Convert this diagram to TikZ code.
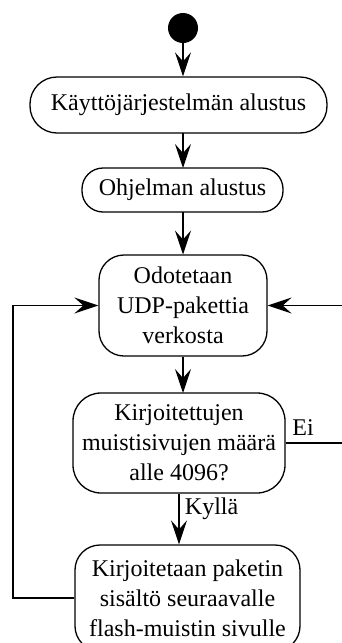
\documentclass[tikz,border=0pt]{standalone}
\usepackage{fontspec}
\setmainfont{Liberation Serif}
\usetikzlibrary{arrows.meta}
\begin{document}
\begin{tikzpicture}[x=1pt, y=-1pt,
  every node/.style={font=\fontsize{24}{30}\selectfont, align=center},
  flow/.style={draw, line width=1.3pt, inner sep=0pt},
  pill/.style={flow, rounded corners=21pt},
  act/.style={flow, rounded corners=25pt},
  link/.style={line width=1.3pt, -{Stealth[length=24pt, width=16pt, inset=9pt]}},
  wire/.style={line width=1.3pt}
]
\useasboundingbox (0,0) rectangle (342,643);
\clip (0,0) rectangle (342,643);

% start marker
\node (start) [circle, fill=black, minimum size=30pt, inner sep=0pt] at (183,28) {};

% activities
\node (init) [pill, rounded corners=27pt, minimum width=297pt, minimum height=56pt] at (178.5,105) {Käyttöjärjestelmän alustus};
\node (prog) [pill, minimum width=201pt, minimum height=44pt] at (182.5,190) {Ohjelman alustus};
\node (wait) [act, minimum width=168pt, minimum height=101pt] at (183,305.5) {Odotetaan\\UDP-pakettia\\verkosta};
\node (check) [act, rounded corners=28pt, minimum width=212pt, minimum height=100pt] at (179,443) {Kirjoitettujen\\muistisivujen määrä\\alle 4096?};
\node (write) [act, minimum width=225pt, minimum height=106pt] at (187.5,598) {Kirjoitetaan paketin\\sisältö seuraavalle\\flash-muistin sivulle};

% return paths
\coordinate (leftturn) at (13,598);
\coordinate (rightturn) at (360,443);

% connectors
\draw[link] (start) -- (start |- init.north);
\draw[link] (183,133) -- (183,168);
\draw[link] (183,212) -- (183,254.5);
\draw[link] (183,356.5) -- (183,393);
\draw[link] (check.south) -- (check.south |- write.north)
  node[pos=0.3, right=2pt, anchor=west] (yes) {Kyllä};
\draw[link] (write.west) -- (leftturn) |- (wait.west);
\draw[link] (check.east) -- (rightturn) |- (wait.east);
\node (no) at (303,428) {Ei};
\end{tikzpicture}
\end{document}
